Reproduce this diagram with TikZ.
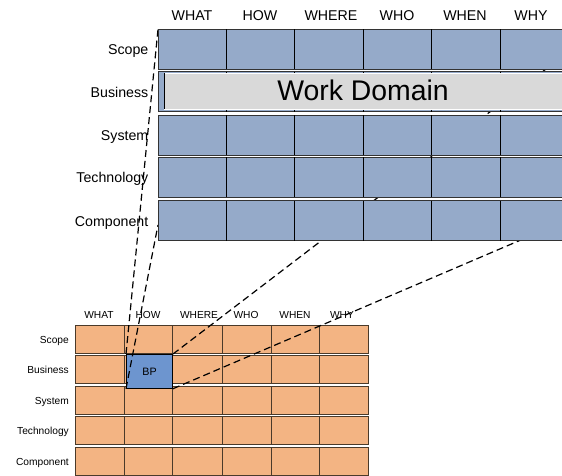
\documentclass[tikz,border=0pt]{standalone}
\usepackage{fontspec}
\setmainfont{Liberation Sans}
\definecolor{zblue}{HTML}{95AAC9}
\definecolor{zgray}{HTML}{D9D9D9}
\definecolor{zorange}{HTML}{F3B483}
\definecolor{bpblue}{HTML}{6D95CF}
\definecolor{zline}{HTML}{333333}
\definecolor{oline}{HTML}{4A3A2A}
\begin{document}
\begin{tikzpicture}[x=1pt,y=-1pt,
  toprow/.style={fill=zblue,draw=zline,line width=1pt},
  botrow/.style={fill=zorange,draw=oline,line width=0.9pt},
  topdiv/.style={draw=black,line width=0.8pt},
  botdiv/.style={draw=oline,line width=0.9pt},
  zoomline/.style={dash pattern=on 7pt off 4pt,line width=1.2pt},
  hdrbig/.style={anchor=base,inner sep=0pt,font=\fontsize{14.2}{16}\selectfont},
  lblbig/.style={anchor=base east,inner sep=0pt,font=\fontsize{14.2}{16}\selectfont},
  hdrsmall/.style={anchor=base,inner sep=0pt,font=\fontsize{10.2}{12}\selectfont},
  lblsmall/.style={anchor=base east,inner sep=0pt,font=\fontsize{10.2}{12}\selectfont}]
\useasboundingbox (0,0) rectangle (562,475);
\clip (0,0) rectangle (562,475);

% ---- bottom (small) grid ----
\foreach \t/\lab [count=\i] in {325/Scope,355.5/Business,386.5/System,416.5/Technology,447/Component}{
  \draw[botrow] (75,\t) rectangle (368,\t+28);
  \foreach \cx in {124,172,222,271,319} \draw[botdiv] (\cx,\t) -- (\cx,\t+28);
  \node[lblsmall] (bl\i) at (69,\t+18) {\lab};
}
\foreach \x/\h [count=\i] in {99/WHAT,148/HOW,199/WHERE,246/WHO,295/WHEN,342/WHY}
  \node[hdrsmall] (bh\i) at (\x,318.3) {\h};

\node[draw=black,fill=bpblue,line width=1pt,minimum width=46pt,minimum height=33.7pt,
      inner sep=0pt,anchor=north west,font=\fontsize{10.7}{12}\selectfont] (bp) at (126,354) {BP};

% ---- connector end points on the large grid ----
\coordinate (tTL) at (158,29.3);
\coordinate (tL2) at (158,225);
\coordinate (tTR) at (598,29.3);
\coordinate (tR2) at (598,207);

\draw[zoomline] (bp.north west) -- (tTL);
\draw[zoomline] (bp.south west) -- (tL2);
\draw[zoomline] (bp.north east) -- (tTR);
\draw[zoomline] (bp.south east) -- (tR2);

% ---- top (large) grid ----
\foreach \t/\lab [count=\i] in {29.3/Scope,71.7/Business,115/System,157.3/Technology,200.7/Component}{
  \draw[toprow] (158,\t) rectangle (620,\t+40);
  \foreach \cx in {226,294,363,431,500,568} \draw[topdiv] (\cx,\t) -- (\cx,\t+40);
  \node[lblbig] (tl\i) at (148.5,\t+25.5) {\lab};
}
\foreach \x/\h [count=\i] in {192/WHAT,260/HOW,331/WHERE,397/WHO,465/WHEN,531/WHY}
  \node[hdrbig] (th\i) at (\x,20.7) {\h};

\filldraw[fill=zgray,draw=white,line width=1pt] (164,73.2) rectangle (625,109.4);
\draw[black,line width=0.8pt] (164,73.2) -- (164,109.4);
\node[anchor=base,inner sep=0pt,font=\fontsize{28.4}{32}\selectfont] (wd) at (363,100) {Work Domain};
\end{tikzpicture}
\end{document}
